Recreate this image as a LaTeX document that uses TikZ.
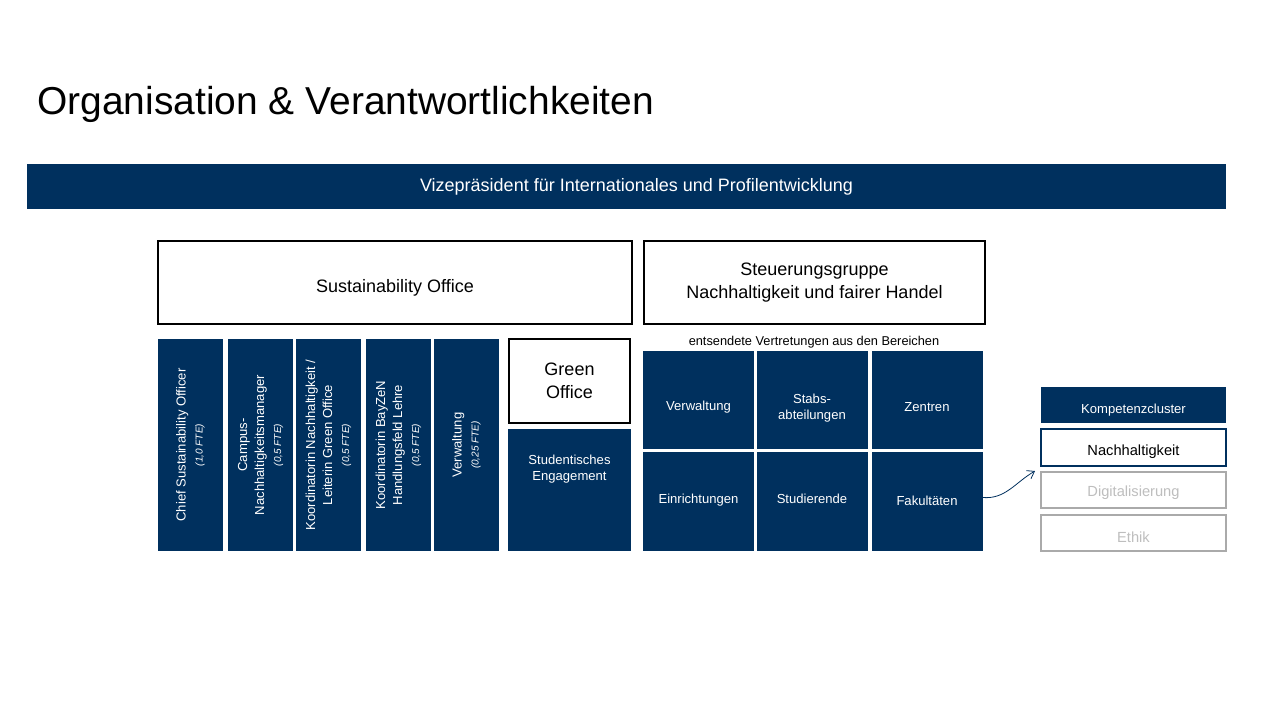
\documentclass[tikz,border=0pt]{standalone}
\usepackage{fontspec}
\setmainfont{Liberation Sans}
\usetikzlibrary{arrows.meta}
\definecolor{navy}{RGB}{0,48,94}
\definecolor{paleline}{RGB}{170,170,170}
\definecolor{paletext}{RGB}{190,190,190}
\newcommand{\fsz}[2]{\fontsize{#1pt}{#2pt}\selectfont}
\newcommand{\fte}[1]{\\{\fsz{7.5}{10}\itshape #1}}
\newcommand{\dropby}[2]{\raisebox{-#1}[\height][\depth]{#2}}
\tikzset{
  px/.style 2 args={minimum width=#1*0.75pt, minimum height=#2*0.75pt},
  navybox/.style={fill=navy, text=white, inner sep=0pt, outer sep=0pt, align=center},
  linebox/.style={draw=black, line width=1.5pt, fill=white, inner sep=0pt, align=center},
  cluster/.style={draw=paleline, line width=1.5pt, text=paletext, inner sep=0pt, align=center, font=\fsz{11}{13}},
  staff/.style={navybox, rotate=90, px={212}{65}, font=\fsz{9.8}{12.75}},
  bereich/.style={navybox, px={111}{98.5}, font=\fsz{9.8}{12}}
}
\begin{document}
\begin{tikzpicture}[x=0.75pt, y=-0.75pt]
\useasboundingbox[fill=white] (0,0) rectangle (1280,720);
% title
\node[anchor=base west, inner sep=0pt, font=\fsz{29.2}{34}] (title) at (37,115) {Organisation \& Verantwortlichkeiten};
% top bar
\node[navybox, px={1199}{45}, font=\fsz{13.5}{16}] (vp) at (626.5,186.5) {\hspace*{15pt}Vizepräsident für Internationales und Profilentwicklung};
% two main boxes
\node[linebox, px={474}{83}, font=\fsz{13.5}{17}] (so) at (395,282.5) {\dropby{3.75pt}{Sustainability Office}};
\node[linebox, px={341}{83}, font=\fsz{13.5}{17}] (sg) at (814.5,282.5) {Steuerungsgruppe\\Nachhaltigkeit und fairer Handel};
% staff of the office
\node[staff] (cso) at (190.5,445) {Chief Sustainability Officer\fte{(1,0 FTE)}};
\node[staff] (csm) at (260.5,445) {Campus-\\Nachhaltigkeitsmanager\fte{(0,5 FTE)}};
\node[staff] (kgo) at (328.5,445) {Koordinatorin Nachhaltigkeit /\\Leiterin Green Office\fte{(0,5 FTE)}};
\node[staff] (kbz) at (398.5,445) {Koordinatorin BayZeN\\Handlungsfeld Lehre\fte{(0,5 FTE)}};
\node[staff] (vw) at (466.5,445) {Verwaltung\fte{(0,25 FTE)}};
% green office
\node[linebox, line width=2pt, px={121}{84}, font=\fsz{13.5}{17}] (go) at (569.5,381) {Green\\Office};
\node[navybox, px={123}{122}] (se) at (569.5,490) {};
\node[text=white, align=center, anchor=north, inner sep=0pt, font=\fsz{9.8}{12}] (setext) at (569.5,455) {Studentisches\\Engagement};
% areas of the steering group
\node[font=\fsz{9.6}{11}, inner sep=0pt] (ent) at (814,342) {entsendete Vertretungen aus den Bereichen};
\node[bereich] (bvw) at (698.5,400) {\dropby{5.25pt}{Verwaltung}};
\node[bereich] (bst) at (812,400) {\dropby{6pt}{\begin{tabular}{@{}c@{}}Stabs-\\abteilungen\end{tabular}}};
\node[bereich] (bze) at (927,400) {\dropby{5.25pt}{Zentren}};
\node[bereich] (bei) at (698.5,501.5) {\dropby{-0.75pt}{Einrichtungen}};
\node[bereich] (bsd) at (812,501.5) {\dropby{-2.25pt}{Studierende}};
\node[bereich] (bfa) at (927,501.5) {\dropby{-0.75pt}{Fakultäten}};
% competence cluster
\node[navybox, px={185}{36}, font=\fsz{9.8}{12}] (kc) at (1133.5,405) {\dropby{3.75pt}{Kompetenzcluster}};
\node[cluster, draw=navy, text=black, px={185}{37}] (nh) at (1133.5,447.5) {\dropby{3pt}{Nachhaltigkeit}};
\node[cluster, px={185}{36}] (dg) at (1133.5,490) {\dropby{2.25pt}{Digitalisierung}};
\node[cluster, px={185}{36}] (et) at (1133.5,533) {\dropby{3pt}{Ethik}};
% arrow
\draw[navy, line width=0.6pt, -{Straight Barb[length=5pt, width=7pt]}] ([yshift=3pt]bfa.east) to[out=-5, in=210] ([shift={(-5,4)}]nh.south west);
\end{tikzpicture}
\end{document}
